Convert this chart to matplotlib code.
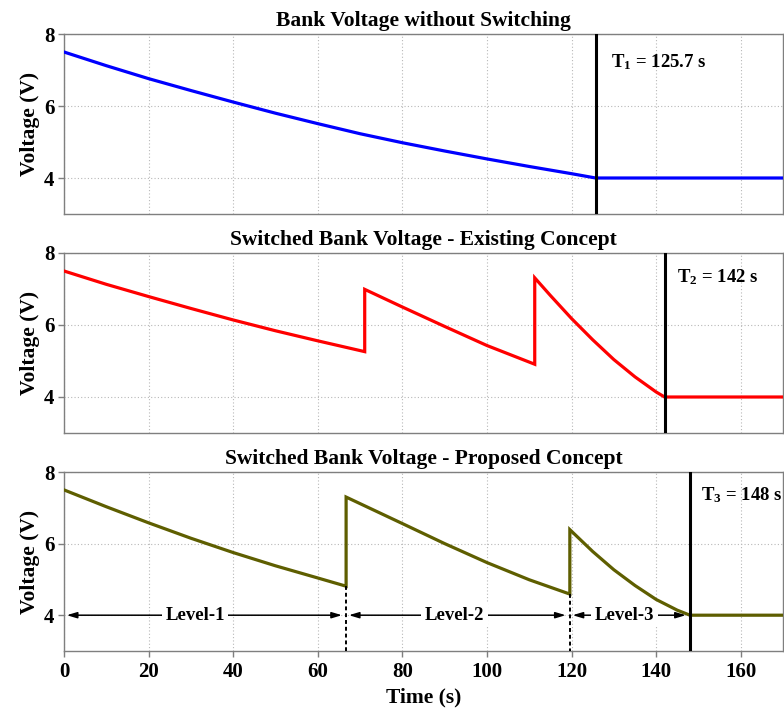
import matplotlib
matplotlib.use("Agg")
import matplotlib.pyplot as plt

plt.rcParams["font.family"] = ["Liberation Serif", "DejaVu Serif"]
plt.rcParams["font.weight"] = "bold"
plt.rcParams["axes.titleweight"] = "bold"
plt.rcParams["axes.labelweight"] = "bold"
plt.rcParams["mathtext.fontset"] = "custom"
plt.rcParams["mathtext.rm"] = "Liberation Serif:bold"
plt.rcParams["mathtext.it"] = "Liberation Serif:bold"
plt.rcParams["mathtext.bf"] = "Liberation Serif:bold"
plt.rcParams["mathtext.default"] = "rm"

# ---- data -------------------------------------------------------------
# Bank voltage without switching
t_plain = [0, 10, 20, 30, 40, 50, 60, 70, 80, 90, 100, 110, 120, 125.7, 170]
v_plain = [7.5, 7.12, 6.76, 6.43, 6.11, 5.80, 5.51, 5.23, 4.98, 4.75, 4.53, 4.32, 4.12, 4.0, 4.0]

# Switched bank voltage - existing concept
t_exist = [0, 10, 20, 30, 40, 50, 60, 71.1,
           71.1, 80, 90, 100, 111.3,
           111.3, 115, 120, 125, 130, 135, 140, 142, 170]
v_exist = [7.5, 7.13, 6.79, 6.46, 6.14, 5.84, 5.56, 5.26,
           6.99, 6.50, 5.96, 5.43, 4.91,
           7.31, 6.82, 6.18, 5.59, 5.04, 4.56, 4.14, 4.0, 4.0]

# Switched bank voltage - proposed concept
t_prop = [0, 10, 20, 30, 40, 50, 60, 66.7,
          66.7, 80, 90, 100, 110, 119.6,
          119.6, 125, 130, 135, 140, 145, 148, 170]
v_prop = [7.5, 7.03, 6.58, 6.15, 5.75, 5.38, 5.04, 4.81,
          7.30, 6.56, 6.00, 5.47, 4.99, 4.59,
          6.39, 5.78, 5.27, 4.83, 4.44, 4.14, 4.0, 4.0]

end_times = [125.7, 142, 148]
end_labels = ["T$_1$ = 125.7 s", "T$_2$ = 142 s", "T$_3$ = 148 s"]

titles = ["Bank Voltage without Switching",
          "Switched Bank Voltage - Existing Concept",
          "Switched Bank Voltage - Proposed Concept"]

switch_times = [66.7, 119.6]
switch_lows = [4.81, 4.59]
level_bounds = [0, 66.7, 119.6, 148]
level_names = ["Level-1", "Level-2", "Level-3"]

x_ticks = [0, 20, 40, 60, 80, 100, 120, 140, 160]
y_ticks = [4, 6, 8]

# ---- figure -----------------------------------------------------------
fig = plt.figure(figsize=(7.84, 7.11), dpi=100)
left = 64 / 784
width = (783 - 64) / 784
rects = [
    (left, 1 - 214 / 711, width, 180 / 711),
    (left, 1 - 433 / 711, width, 180 / 711),
    (left, 1 - 651 / 711, width, 179 / 711),
]
series = [(t_plain, v_plain, "#0000ff"),
          (t_exist, v_exist, "#ff0000"),
          (t_prop, v_prop, "#5e5e00")]
label_pos = [(129.3, 7.23), (145.0, 7.34), (150.5, 7.36)]

axes = []
for i, rect in enumerate(rects):
    ax = fig.add_axes(rect)
    axes.append(ax)
    t, v, col = series[i]
    ax.plot(t, v, color=col, lw=2.3, solid_joinstyle="miter", zorder=3)
    ax.axvline(end_times[i], color="black", lw=2.2, zorder=4)
    ax.text(label_pos[i][0], label_pos[i][1], end_labels[i],
            fontsize=13.5, fontweight="bold", ha="left", va="center")
    ax.set_xlim(0, 170)
    ax.set_ylim(3, 8)
    ax.set_xticks(x_ticks)
    ax.set_yticks(y_ticks)
    ax.grid(True, color="#b8b8b8", ls=(0, (1, 2)), lw=0.8)
    for sp in ax.spines.values():
        sp.set_color("#7f7f7f")
        sp.set_linewidth(1.0)
    ax.tick_params(axis="y", direction="out", length=4, width=1,
                   color="#7f7f7f", labelsize=15, pad=3)
    ax.set_ylabel("Voltage (V)", fontsize=15.5, labelpad=3)
    ax.set_title(titles[i], fontsize=15.5, pad=6)
    if i < 2:
        ax.tick_params(axis="x", length=0, labelbottom=False)
    else:
        ax.tick_params(axis="x", direction="out", length=4, width=1,
                       color="#7f7f7f", labelsize=15, pad=4)
        ax.set_xlabel("Time (s)", fontsize=15.5, labelpad=4)

# level markers on the proposed-concept panel
ax = axes[2]
for ts, vl in zip(switch_times, switch_lows):
    ax.plot([ts, ts], [vl, 3], color="black", lw=1.4, ls=(0, (2, 1.5)), zorder=3)

text_centers = [31.0, 92.3, 132.5]
for k in range(3):
    x0, x1 = level_bounds[k], level_bounds[k + 1]
    ax.annotate("", xy=(x1, 4), xytext=(x0, 4),
                arrowprops=dict(arrowstyle="<|-|>,head_length=0.6,head_width=0.18",
                                color="black", lw=1.1, shrinkA=2, shrinkB=3),
                zorder=4)
    ax.text(text_centers[k], 4, level_names[k], fontsize=13.5, fontweight="bold",
            ha="center", va="center", zorder=5,
            bbox=dict(facecolor="white", edgecolor="none", pad=2.5))

fig.savefig("out.png", dpi=100)
